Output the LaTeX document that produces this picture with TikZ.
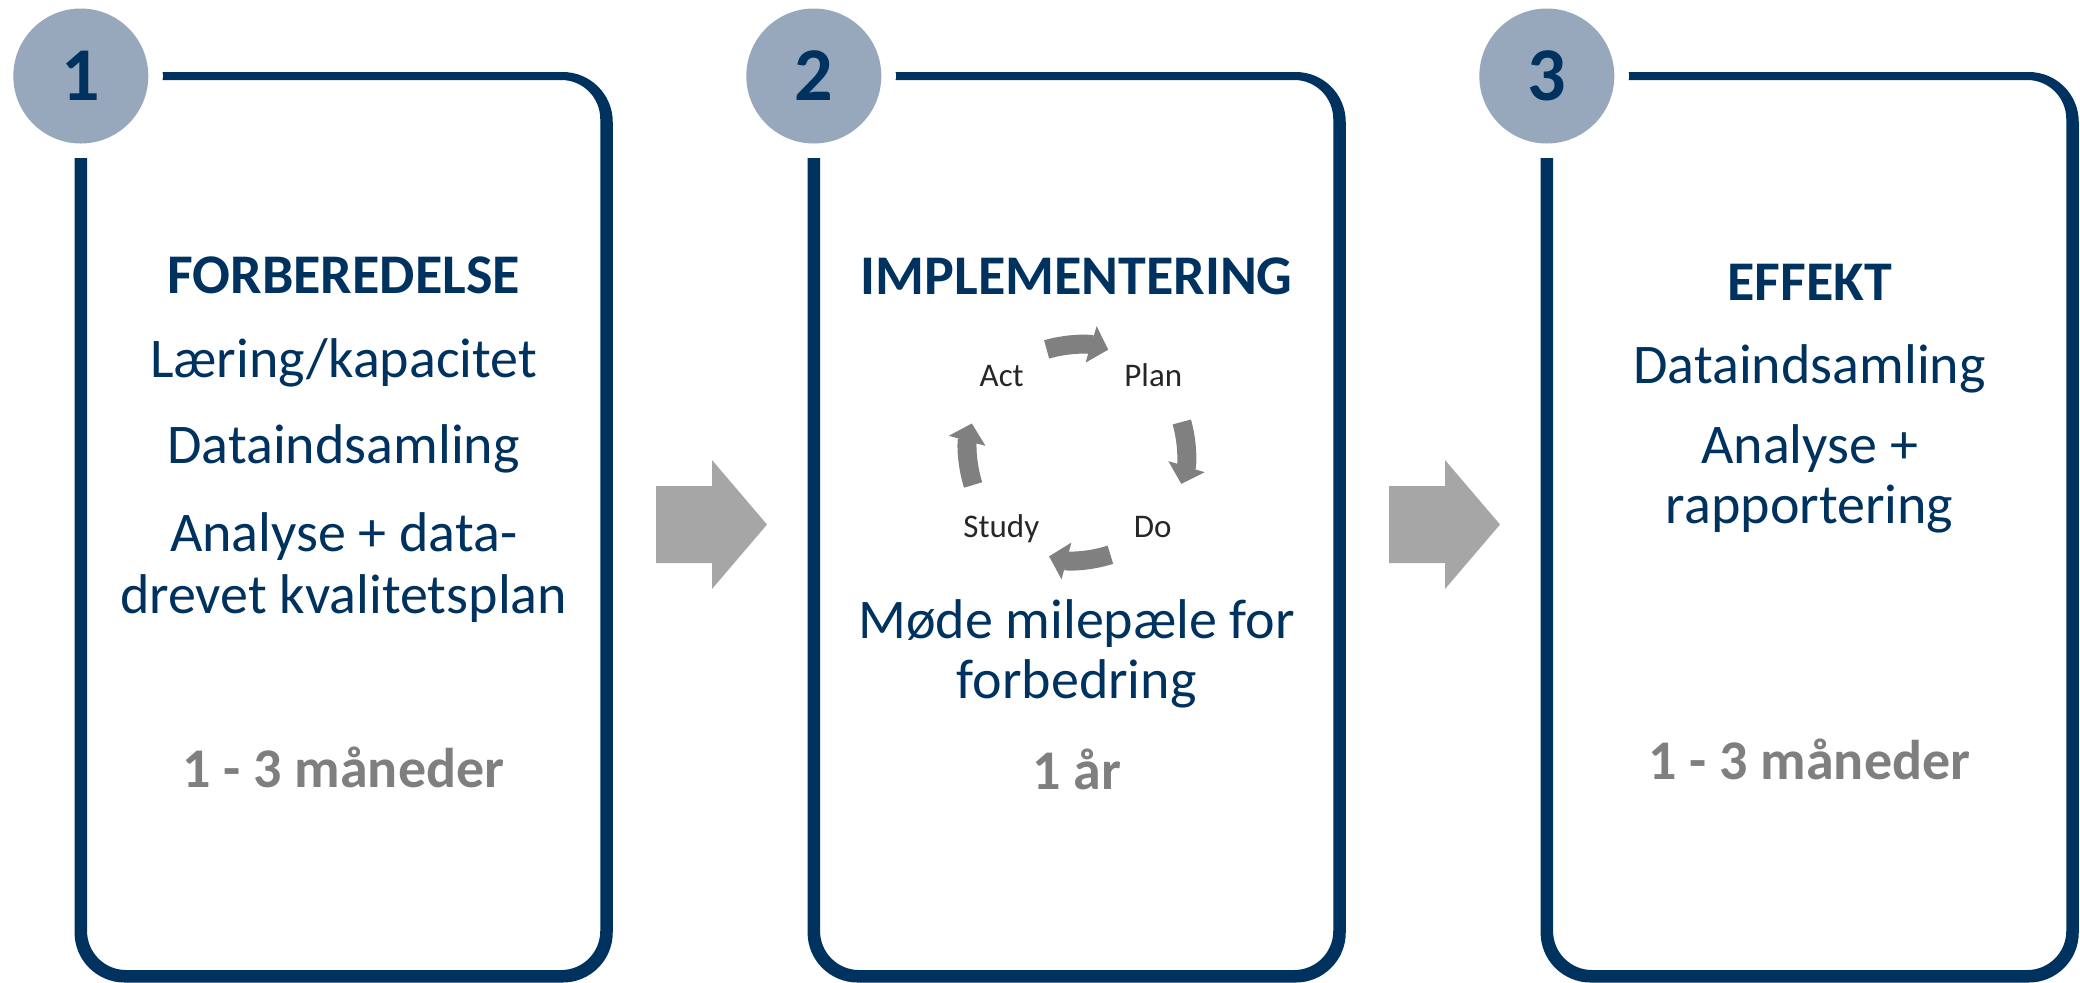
\documentclass[tikz,border=0pt]{standalone}
\usepackage{fontspec}
\setmainfont{Carlito}
\usetikzlibrary{arrows.meta}
\definecolor{navy}{HTML}{00325F}
\definecolor{circfill}{HTML}{97A8BD}
\definecolor{durgray}{HTML}{7F7F7F}
\definecolor{blockgray}{HTML}{A6A6A6}
\definecolor{cycgray}{HTML}{808080}
\definecolor{cyctext}{HTML}{262626}
\begin{document}
\begin{tikzpicture}[x=0.5pt,y=-0.5pt,
  title/.style={font=\bfseries\fontsize{28pt}{34pt}\selectfont, text=navy, anchor=base, inner sep=0pt},
  body/.style={font=\fontsize{28pt}{34pt}\selectfont, text=navy, anchor=base, inner sep=0pt},
  dur/.style={font=\bfseries\fontsize{28pt}{34pt}\selectfont, text=durgray, anchor=base, inner sep=0pt},
  pdsa/.style={font=\fontsize{16.5pt}{20pt}\selectfont, text=cyctext, anchor=base, inner sep=0pt},
  numcirc/.style={circle, fill=circfill, minimum size=67.5pt, inner sep=0pt, text=navy, font=\bfseries\fontsize{38pt}{40pt}\selectfont},
  cycarrow/.style={draw=cycgray, line width=9.5pt, -{Triangle[width=18.5pt,length=9pt]}},
  blockarrow/.style={fill=blockgray}
]
\useasboundingbox (0,0) rectangle (2080,982);

% phase frames with numbered circles
\foreach \i/\L in {1/80.8,2/813.8,3/1546.8}{
  \pgfmathsetmacro\R{\L+525.7}
  \fill[navy, even odd rule, rounded corners=25pt] (\L-6.25,72) rectangle (\R+6.25,982.5)
       [rounded corners=19.5pt] (\L+6.25,80) rectangle (\R-6.25,970);
  \fill[white] (\L,76) circle[radius=41pt];
  \node[numcirc] (num\i) at (\L,76) {\i};
}

% block arrows between frames
\foreach \d in {0,733}{
  \fill[blockarrow] (656+\d,486) -- (712+\d,486) -- (712+\d,460) -- (767+\d,524.5)
       -- (712+\d,589) -- (712+\d,563) -- (656+\d,563) -- cycle;
}

% box 1
\node[title] (t1) at (343.6,293.3) {FORBEREDELSE};
\node[body] (b1a) at (343.6,377.7) {Læring/kapacitet};
\node[body] (b1b) at (343.6,463) {Dataindsamling};
\node[body] (b1c) at (343.6,551.7) {Analyse + data-};
\node[body] (b1d) at (343.6,613.3) {drevet kvalitetsplan};
\node[dur] (d1) at (343.6,787.3) {1 - 3 måneder};

% box 2
\node[title] (t2) at (1076.6,294) {IMPLEMENTERING};
\node[body] (b2a) at (1076.6,638.3) {Møde milepæle for};
\node[body] (b2b) at (1076.6,698.3) {forbedring};
\node[dur] (d2) at (1076.6,789) {1 år};

% PDSA cycle
\coordinate (cc) at (1077,452);
\node[pdsa] (act) at (1001.7,386.7) {Act};
\node[pdsa] (plan) at (1153.3,386.7) {Plan};
\node[pdsa] (study) at (1001.3,537.3) {Study};
\node[pdsa] (do) at (1152.7,537.3) {Do};
\draw[cycarrow] ([shift={(106.5:53.5pt)}]cc) arc[start angle=106.5,end angle=73,radius=53.5pt];
\draw[cycarrow] ([shift={(16:54.5pt)}]cc) arc[start angle=16,end angle=-17,radius=54.5pt];
\draw[cycarrow] ([shift={(-72:54pt)}]cc) arc[start angle=-72,end angle=-105,radius=54pt];
\draw[cycarrow] ([shift={(-162.4:54.5pt)}]cc) arc[start angle=-162.4,end angle=-195.2,radius=54.5pt];

% box 3
\node[title] (t3) at (1809.6,300.7) {EFFEKT};
\node[body] (b3a) at (1809.6,383.3) {Dataindsamling};
\node[body] (b3b) at (1809.6,463.3) {Analyse +};
\node[body] (b3c) at (1809.6,523.3) {rapportering};
\node[dur] (d3) at (1809.6,779) {1 - 3 måneder};
\end{tikzpicture}
\end{document}
